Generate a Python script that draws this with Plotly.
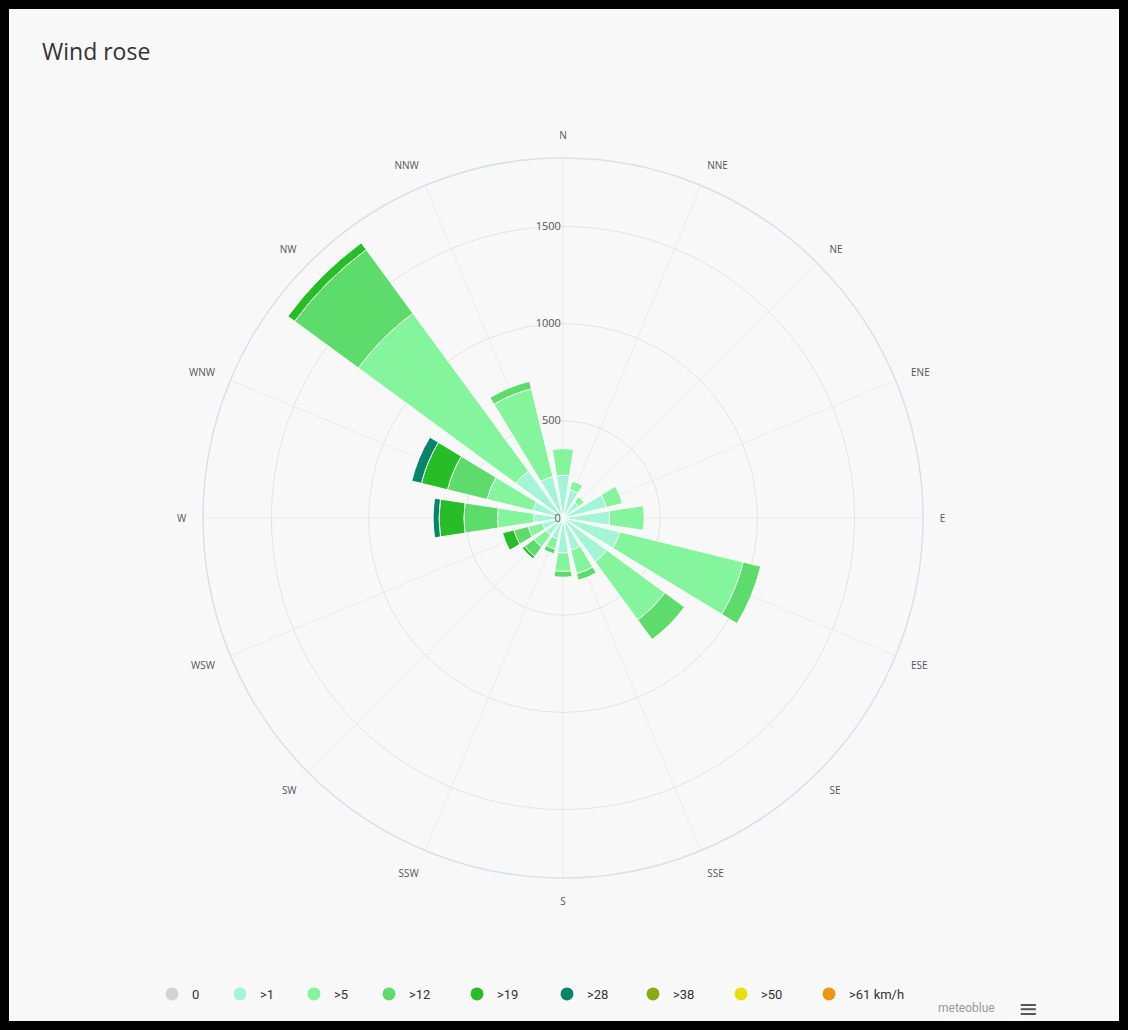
import plotly.graph_objects as go

directions = ["N", "NNE", "NE", "ENE", "E", "ESE", "SE", "SSE",
              "S", "SSW", "SW", "WSW", "W", "WNW", "NW", "NNW"]

speed_classes = ["0", ">1", ">5", ">12", ">19", ">28", ">38", ">50", ">61 km/h"]
class_colors = ["#d3d3d3", "#a3f5d6", "#84f59c", "#5ddb6b", "#26bd26",
                "#08846a", "#8aab12", "#e8e00e", "#f0950c"]

# hours per direction for each speed class
calm     = [0, 0, 0, 0, 0, 0, 0, 0, 0, 0, 0, 0, 0, 0, 0, 0]
over_1   = [220, 150, 100, 230, 240, 300, 280, 170, 180, 110, 110, 110, 150, 160, 300, 220]
over_5   = [137, 45, 35, 85, 178, 655, 370, 125, 95, 55, 75, 75, 187, 243, 1006, 464]
over_12  = [0, 0, 0, 0, 0, 92, 125, 35, 30, 25, 60, 75, 173, 209, 406, 40]
over_19  = [0, 0, 0, 0, 0, 0, 0, 0, 0, 0, 15, 60, 128, 138, 43, 0]
over_28  = [0, 0, 0, 0, 0, 0, 0, 0, 0, 0, 0, 0, 30, 51, 0, 0]
over_38  = [0, 0, 0, 0, 0, 0, 0, 0, 0, 0, 0, 0, 0, 0, 0, 0]
over_50  = [0, 0, 0, 0, 0, 0, 0, 0, 0, 0, 0, 0, 0, 0, 0, 0]
over_61  = [0, 0, 0, 0, 0, 0, 0, 0, 0, 0, 0, 0, 0, 0, 0, 0]

series = [calm, over_1, over_5, over_12, over_19, over_28, over_38, over_50, over_61]

radial_ticks = [0, 500, 1000, 1500]
radial_max = 1852

step = 360 / len(directions)
theta_deg = [i * step for i in range(len(directions))]

# legend entry positions (pixels from left edge), layout only
legend_px = [172, 240, 314, 389, 477, 567, 653, 741, 829]

W, H = 1128, 1030
cx, cy, R = 563, 518, 360
bg = "#f8f8f8"
legend_font = dict(size=13, color="#333", family="Liberation Sans Narrow, Roboto, sans-serif")

fig = go.Figure()

for name, vals, col in zip(speed_classes, series, class_colors):
    fig.add_trace(go.Barpolar(
        r=vals, theta=theta_deg, name=name, width=17.5,
        marker=dict(color=col, line=dict(color="rgba(255,255,255,0.85)", width=1)),
        showlegend=False,
        hovertemplate="%{theta}: %{r}<extra>" + name + "</extra>",
    ))

legend_layouts = {}
for i, (name, col, px) in enumerate(zip(speed_classes, class_colors, legend_px)):
    key = "legend" if i == 0 else f"legend{i + 1}"
    fig.add_trace(go.Scatterpolar(
        r=[None], theta=[None], mode="markers", name=name, legend=key,
        marker=dict(color=col, size=13, symbol="circle"),
        showlegend=True, hoverinfo="skip",
    ))
    legend_layouts[key] = dict(
        orientation="h", x=(px - 20) / W, xanchor="left", y=(H - 994) / H, yanchor="middle",
        font=legend_font, itemclick=False, itemdoubleclick=False,
        bgcolor="rgba(0,0,0,0)", borderwidth=0,
    )

fig.update_layout(
    width=W, height=H,
    margin=dict(l=0, r=0, t=0, b=0),
    paper_bgcolor=bg,
    plot_bgcolor=bg,
    font=dict(family="Open Sans, DejaVu Sans, sans-serif", color="#555"),
    title=dict(text="Wind rose", x=42 / W, xanchor="left", y=1 - 52 / H, yanchor="middle",
               font=dict(size=23, color="#333", family="Open Sans, sans-serif")),
    barmode="stack",
    polar=dict(
        domain=dict(x=[(cx - R) / W, (cx + R) / W], y=[(H - cy - R) / H, (H - cy + R) / H]),
        bgcolor=bg,
        bargap=0,
        radialaxis=dict(
            range=[0, radial_max], tickvals=radial_ticks,
            ticktext=[str(v) for v in radial_ticks],
            angle=90, tickangle=90, side="counterclockwise",
            showline=False, ticks="",
            gridcolor="#e4e4e8", gridwidth=1,
            tickfont=dict(size=11, color="#555"),
        ),
        angularaxis=dict(
            direction="clockwise", rotation=90,
            tickvals=theta_deg, ticktext=directions,
            showline=True, linecolor="#dcdfe9", linewidth=1.5,
            gridcolor="#ebebeb", gridwidth=1,
            ticks="outside", ticklen=14, tickcolor="rgba(0,0,0,0)",
            tickfont=dict(size=10, color="#555"),
        ),
    ),
    annotations=[
        dict(text="meteoblue", x=966 / W, y=(H - 1008) / H, xref="paper", yref="paper",
             xanchor="center", yanchor="middle", showarrow=False,
             font=dict(size=12, color="#999",
                       family="Liberation Sans Narrow, Roboto, sans-serif")),
        dict(text="≡", x=1028 / W, y=(H - 1007) / H, xref="paper", yref="paper",
             xanchor="center", yanchor="middle", showarrow=False,
             font=dict(size=24, color="#555")),
    ],
    shapes=[
        dict(type="rect", xref="paper", yref="paper", x0=0, x1=1, y0=0, y1=1,
             line=dict(color="black", width=18), fillcolor="rgba(0,0,0,0)", layer="above"),
    ],
    **legend_layouts,
)

fig.write_html(
    "out.html",
    config={"displayModeBar": False},
    post_script="document.body.style.margin='0';document.body.style.overflow='hidden';",
)
